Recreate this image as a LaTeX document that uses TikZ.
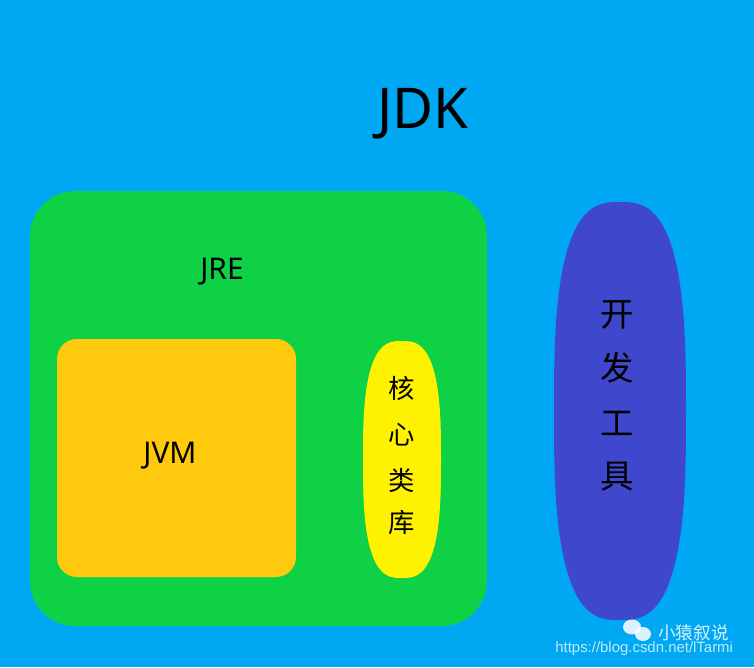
\documentclass[tikz,border=0pt]{standalone}
\usepackage{fontspec}
\setmainfont{Noto Sans}
\newfontfamily\cjk{Noto Sans CJK SC}
\newfontfamily\arial{Liberation Sans}
\definecolor{bg}{RGB}{0,168,243}
\definecolor{jre}{RGB}{14,209,69}
\definecolor{jvm}{RGB}{255,201,14}
\definecolor{core}{RGB}{255,242,0}
\definecolor{tool}{RGB}{63,72,204}
\tikzset{lbl/.style={inner sep=0pt,text=black}}
\newcommand{\superell}[5]{% color, cx, cy, a, b
  \fill[#1] plot[domain=0:360,samples=120,smooth cycle]
   ({#2+#4*sign(cos(\x))*pow(abs(cos(\x))+0.00001,0.7)},{#3+#5*sign(sin(\x))*pow(abs(sin(\x))+0.00001,0.7)});}
\begin{document}
\begin{tikzpicture}[x=0.02cm,y=-0.02cm]
\fill[bg] (0,0) rectangle (754,667);
\useasboundingbox (0,0) rectangle (754,667);
\node[lbl,font=\fontsize{32}{32}\selectfont] (jdk) at (423,114) {JDK};
\fill[jre,rounded corners=0.9cm] (30,191) rectangle (487,626);
\node[lbl,font=\fontsize{17}{17}\selectfont] (jret) at (222,272) {JRE};
\fill[jvm,rounded corners=0.4cm] (57,339) rectangle (296,577);
\node[lbl,font=\fontsize{17}{17}\selectfont] (jvmt) at (170,456) {JVM};
\superell{core}{402}{459.5}{39}{118.5}
\foreach \t/\y in {核/388,心/435,类/480,库/523}
  \node[lbl,font=\cjk\fontsize{15}{15}\selectfont] at (402,\y) {\t};
\superell{tool}{620}{411}{66}{209}
\foreach \t/\y in {开/315,发/368,工/423,具/477}
  \node[lbl,font=\cjk\fontsize{19}{19}\selectfont] at (617,\y) {\t};
\fill[white,opacity=0.85] (632,627) ellipse (9 and 7.5);
\fill[white,opacity=0.85] (643,634) ellipse (8 and 7);
\node[lbl,text=white,opacity=0.85,font=\cjk\fontsize{10}{10}\selectfont,anchor=west] (wm) at (658,633) {小猿叙说};
\node[lbl,text=white,opacity=0.75,font=\arial\fontsize{8.5}{8.5}\selectfont,anchor=west] (url) at (555,649) {https://blog.csdn.net/lTarmi};
\end{tikzpicture}
\end{document}
